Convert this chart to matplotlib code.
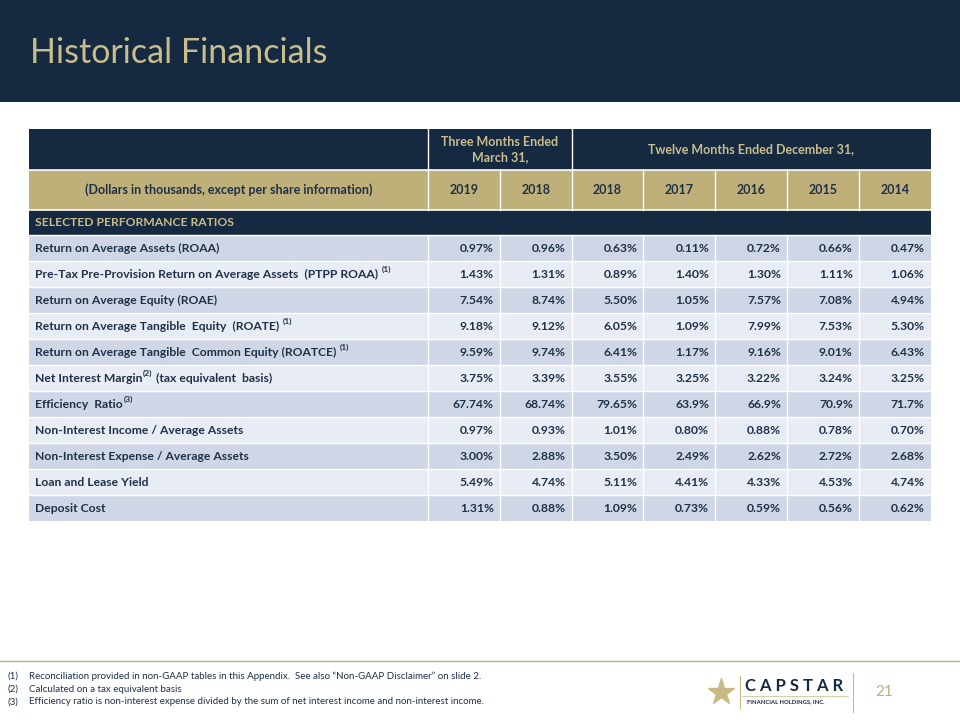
import matplotlib
matplotlib.use("Agg")
import matplotlib.pyplot as plt
from matplotlib.patches import Rectangle

plt.rcParams['font.family'] = ['Lato', 'DejaVu Sans']

# ---------------- data ----------------
title = "Historical Financials"
group_headers = ["Three Months Ended\nMarch 31,", "Twelve Months Ended December 31,"]
group_spans = [2, 5]
corner_label = "(Dollars in thousands, except per share information)"
years = ["2019", "2018", "2018", "2017", "2016", "2015", "2014"]
section_label = "SELECTED PERFORMANCE RATIOS"
# each label: (main text, superscript note, trailing text)
row_labels = [
    ("Return on Average Assets (ROAA)", "", ""),
    ("Pre-Tax Pre-Provision Return on Average Assets  (PTPP ROAA) ", "(1)", ""),
    ("Return on Average Equity (ROAE)", "", ""),
    ("Return on Average Tangible  Equity  (ROATE) ", "(1)", ""),
    ("Return on Average Tangible  Common Equity (ROATCE) ", "(1)", ""),
    ("Net Interest Margin", "(2)", " (tax equivalent  basis)"),
    ("Efficiency  Ratio", "(3)", ""),
    ("Non-Interest Income / Average Assets", "", ""),
    ("Non-Interest Expense / Average Assets", "", ""),
    ("Loan and Lease Yield", "", ""),
    ("Deposit Cost", "", ""),
]
roaa = ["0.97%", "0.96%", "0.63%", "0.11%", "0.72%", "0.66%", "0.47%"]
ptpp_roaa = ["1.43%", "1.31%", "0.89%", "1.40%", "1.30%", "1.11%", "1.06%"]
roae = ["7.54%", "8.74%", "5.50%", "1.05%", "7.57%", "7.08%", "4.94%"]
roate = ["9.18%", "9.12%", "6.05%", "1.09%", "7.99%", "7.53%", "5.30%"]
roatce = ["9.59%", "9.74%", "6.41%", "1.17%", "9.16%", "9.01%", "6.43%"]
nim = ["3.75%", "3.39%", "3.55%", "3.25%", "3.22%", "3.24%", "3.25%"]
efficiency = ["67.74%", "68.74%", "79.65%", "63.9%", "66.9%", "70.9%", "71.7%"]
nonint_income = ["0.97%", "0.93%", "1.01%", "0.80%", "0.88%", "0.78%", "0.70%"]
nonint_expense = ["3.00%", "2.88%", "3.50%", "2.49%", "2.62%", "2.72%", "2.68%"]
loan_yield = ["5.49%", "4.74%", "5.11%", "4.41%", "4.33%", "4.53%", "4.74%"]
deposit_cost = ["1.31%", "0.88%", "1.09%", "0.73%", "0.59%", "0.56%", "0.62%"]
table_values = [roaa, ptpp_roaa, roae, roate, roatce, nim, efficiency,
                nonint_income, nonint_expense, loan_yield, deposit_cost]
footnotes = [
    ("(1)", "Reconciliation provided in non-GAAP tables in this Appendix.  See also \u201cNon-GAAP Disclaimer\u201d on slide 2."),
    ("(2)", "Calculated on a tax equivalent basis"),
    ("(3)", "Efficiency ratio is non-interest expense divided by the sum of net interest income and non-interest income."),
]
page_number = "21"

# ---------------- style ----------------
NAVY = "#152A40"
GOLD = "#BFB07A"
TITLE_GOLD = "#C8BD8C"
HEAD_GOLD = "#C9BD8B"
ROW_DARK = "#CFD7E6"
ROW_LIGHT = "#E8ECF4"
TEXT = "#1E3148"
FS = 8.7

W, H = 960, 720
fig = plt.figure(figsize=(9.6, 7.2), dpi=100)
ax = fig.add_axes([0, 0, 1, 1])
ax.set_xlim(0, W)
ax.set_ylim(H, 0)
ax.axis("off")

# header bar
ax.add_patch(Rectangle((0, 0), W, 102, color=NAVY, lw=0))
ax.text(30, 53, title, color=TITLE_GOLD, fontsize=24.5, va="center", ha="left")

# table geometry
x0 = 29
label_w = 399
col_w = 71.8
xs = [x0 + label_w + i * col_w for i in range(len(years) + 1)]
x_end = xs[-1]
y_h1, y_h2, y_sec, y_d = 129, 170, 210, 235
row_h = 26

# header row 1
ax.add_patch(Rectangle((x0, y_h1), x_end - x0, y_h2 - y_h1, color=NAVY, lw=0))
ci = 0
for gh, span in zip(group_headers, group_spans):
    xa, xb = xs[ci], xs[ci + span]
    ax.text((xa + xb) / 2, (y_h1 + y_h2) / 2, gh, color=HEAD_GOLD, fontsize=9,
            fontweight="bold", ha="center", va="center", linespacing=1.3)
    ax.plot([xa, xa], [y_h1, y_h2], color="white", lw=1)
    ci += span

# header row 2 (gold)
ax.add_patch(Rectangle((x0, y_h2), x_end - x0, y_sec - y_h2, color=GOLD, lw=0))
ax.plot([x0, x_end], [y_h2, y_h2], color="white", lw=1.2)
ax.text((x0 + xs[0]) / 2, (y_h2 + y_sec) / 2, corner_label, color=TEXT,
        fontsize=9, fontweight="bold", ha="center", va="center")
for i, yr in enumerate(years):
    ax.text((xs[i] + xs[i + 1]) / 2, (y_h2 + y_sec) / 2, yr, color=TEXT,
            fontsize=9, fontweight="bold", ha="center", va="center")
for x in xs[:-1]:
    ax.plot([x, x], [y_h2, y_sec], color="white", lw=1)

# section row
ax.add_patch(Rectangle((x0, y_sec), x_end - x0, y_d - y_sec, color=NAVY, lw=0))
ax.plot([x0, x_end], [y_sec, y_sec], color="white", lw=1.2)
ax.text(35, (y_sec + y_d) / 2, section_label, color=HEAD_GOLD, fontsize=FS,
        fontweight="bold", ha="left", va="center")

# data rows
for r, ((main, sup, tail), vals) in enumerate(zip(row_labels, table_values)):
    yt = y_d + r * row_h
    ax.add_patch(Rectangle((x0, yt), x_end - x0, row_h,
                           color=ROW_DARK if r % 2 == 0 else ROW_LIGHT, lw=0))
    t_main = ax.text(35, yt + row_h / 2, main, color=TEXT, fontsize=FS,
                     fontweight="bold", ha="left", va="center")
    if sup:
        t_sup = ax.annotate(sup, xy=(1, 0.5), xycoords=t_main, xytext=(0.5, 3.2),
                            textcoords="offset points", color=TEXT, fontsize=6,
                            fontweight="bold", ha="left", va="center")
        if tail:
            ax.annotate(tail, xy=(1, 0.5), xycoords=t_sup, xytext=(0, -3.2),
                        textcoords="offset points", color=TEXT, fontsize=FS,
                        fontweight="bold", ha="left", va="center")
    for i, v in enumerate(vals):
        ax.text(xs[i + 1] - 6, yt + row_h / 2, v, color=TEXT, fontsize=FS,
                fontweight="bold", ha="right", va="center")
    ax.plot([x0, x_end], [yt, yt], color="white", lw=1)
y_bottom = y_d + len(row_labels) * row_h
for x in xs[:-1]:
    ax.plot([x, x], [y_d, y_bottom], color="white", lw=1)

# footer
ax.plot([0, W], [661, 661], color=GOLD, lw=1)
for k, (num, txt) in enumerate(footnotes):
    yy = 676 + k * 13
    ax.text(8, yy, num, color=TEXT, fontsize=7, ha="left", va="center")
    ax.text(29, yy, txt, color=TEXT, fontsize=7, ha="left", va="center")

# logo
ax.plot([721], [692], marker="*", markersize=20, color="#C8BA85", mec="#C8BA85")
ax.plot([740, 740], [676, 708], color="#C8BA85", lw=0.8)
ax.text(745, 686, "C A P S T A R", color=NAVY, fontsize=12, fontweight="bold",
        ha="left", va="center")
ax.plot([742, 848], [696, 696], color="#C8BA85", lw=0.5)
ax.text(747, 702, "FINANCIAL HOLDINGS, INC.", color=NAVY, fontsize=4.2,
        fontweight="bold", ha="left", va="center")
ax.plot([853, 853], [673, 712], color="#C8BA85", lw=0.8)
ax.text(884, 692, page_number, color=GOLD, fontsize=11, ha="center", va="center")

fig.savefig("out.png", dpi=100)
